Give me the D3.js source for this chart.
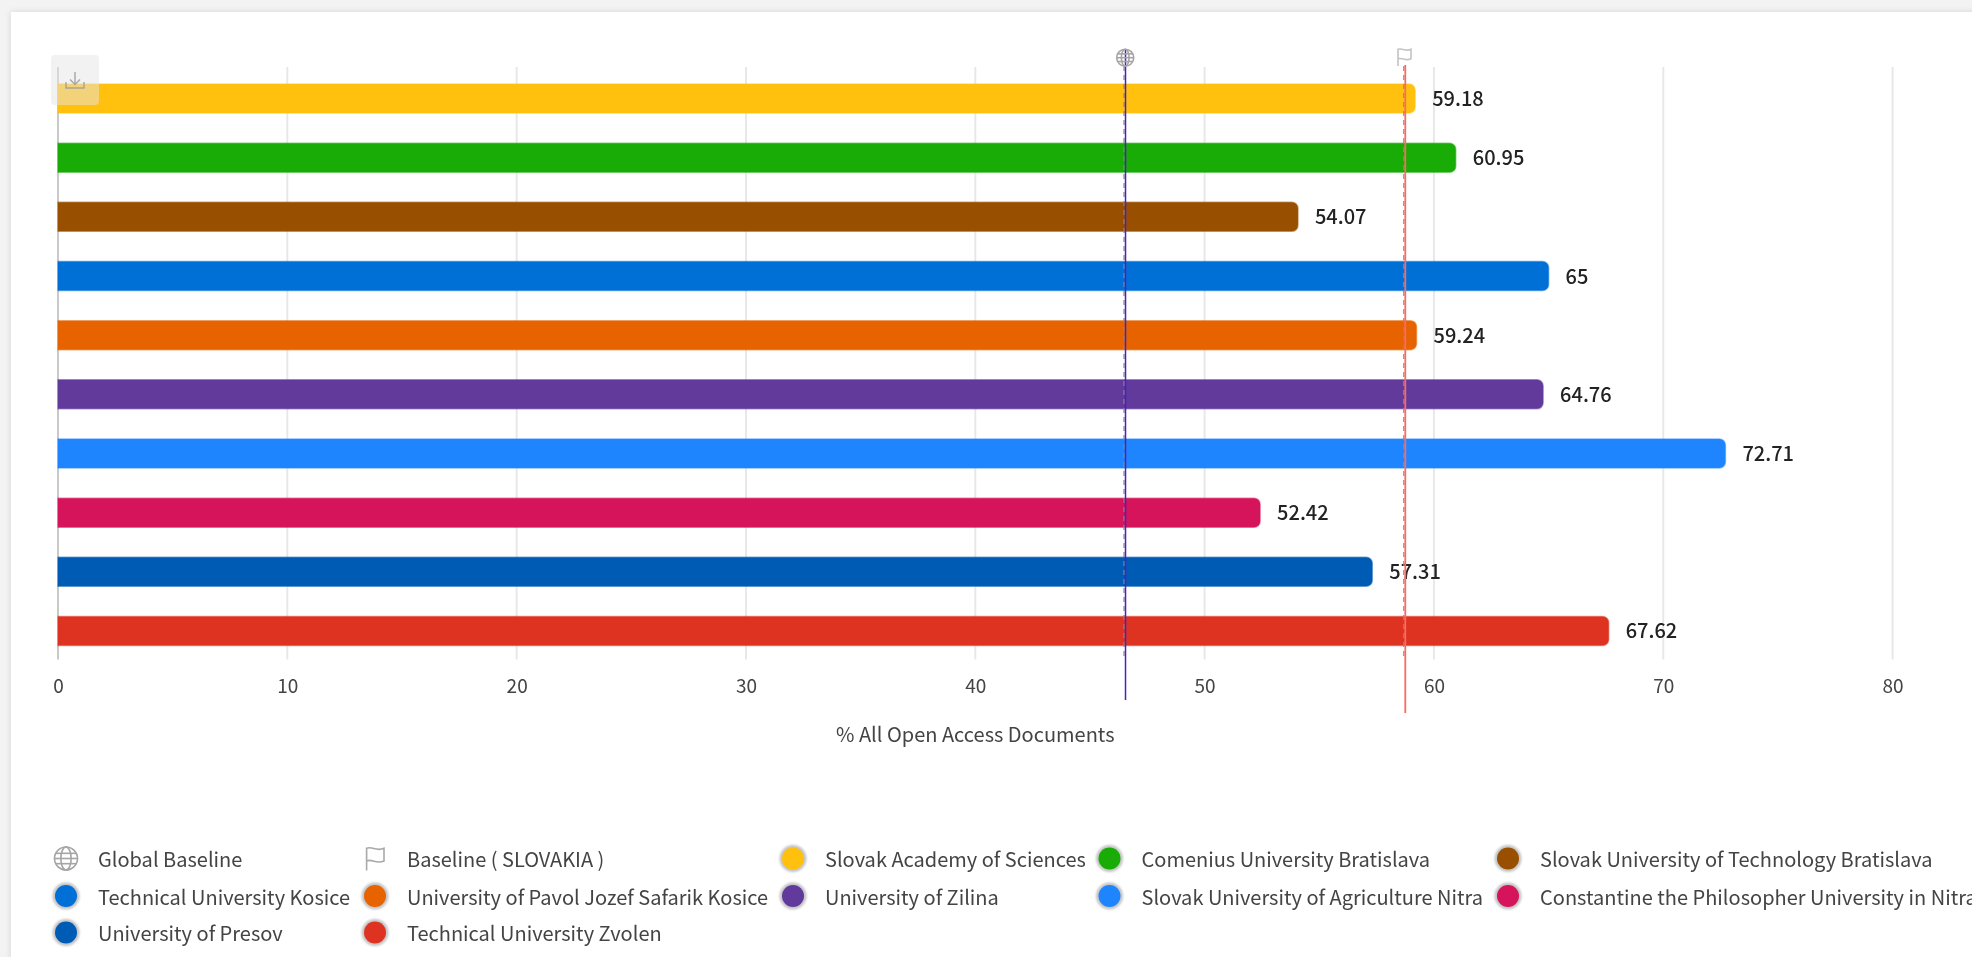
<!DOCTYPE html>
<html><head><meta charset="utf-8">
<script src="https://cdn.jsdelivr.net/npm/d3@7/dist/d3.min.js"></script>
<style>
html,body{margin:0;padding:0;width:1972px;height:957px;overflow:hidden;background:#f3f3f3}
svg{display:block;font-family:"Noto Sans CJK JP","Noto Sans",sans-serif}
#chart{filter:blur(0.45px)}
</style></head><body><div id="chart"></div>
<script>
const universities=["Slovak Academy of Sciences","Comenius University Bratislava","Slovak University of Technology Bratislava","Technical University Kosice","University of Pavol Jozef Safarik Kosice","University of Zilina","Slovak University of Agriculture Nitra","Constantine the Philosopher University in Nitra","University of Presov","Technical University Zvolen"];
const openAccess=[59.18,60.95,54.07,65,59.24,64.76,72.71,52.42,57.31,67.62];
const barColors=["#FFC10E","#19AB06","#985000","#006FD6","#E66300","#613A9B","#1E85FF","#D6145B","#005BB5","#DD3320"];
const xTicks=[0,10,20,30,40,50,60,70,80];
const axisTitle="% All Open Access Documents";
const globalBaseline=46.55;
const countryBaseline=58.75;
const baselineLabels=["Global Baseline","Baseline ( SLOVAKIA )"];

const W=1972,H=957;
const svg=d3.select("#chart").append("svg").attr("width",W).attr("height",H);
const defs=svg.append("defs");
const sh=defs.append("filter").attr("id","cardShadow").attr("x","-5%").attr("y","-5%").attr("width","110%").attr("height","110%");
sh.append("feDropShadow").attr("dx",0).attr("dy",0).attr("stdDeviation",3).attr("flood-color","#000").attr("flood-opacity",0.12);
svg.append("rect").attr("x",11).attr("y",12).attr("width",W+40).attr("height",H+40).attr("fill","#fff").attr("filter","url(#cardShadow)");

const x=d3.scaleLinear().domain([0,80]).range([58,1892.6]);
const y=d3.scaleBand().domain(universities).range([84,645.5]).paddingInner(0.509).paddingOuter(0);
const gridTop=67,gridBottom=659.5;

// grid
svg.append("g").selectAll("line").data(xTicks).join("line")
  .attr("x1",d=>x(d)).attr("x2",d=>x(d)).attr("y1",gridTop).attr("y2",gridBottom)
  .attr("stroke",d=>d===0?"#c9c9c9":"#e8e8e8").attr("stroke-width",2);

// axis
const axis=svg.append("g").attr("transform",`translate(0,${gridBottom})`)
  .call(d3.axisBottom(x).tickValues(xTicks).tickSize(0).tickPadding(20).tickFormat(d3.format("d")));
axis.select(".domain").remove();
axis.selectAll("text").attr("font-size",19).attr("fill","#444").attr("font-family",'"Noto Sans CJK JP"');

svg.append("text").attr("x",x(40)).attr("y",733.5).attr("text-anchor","middle").attr("dominant-baseline","central")
  .attr("font-size",20).attr("fill","#444").text(axisTitle);

// bars: square at the axis, rounded at the value end
const barPath=(d,i)=>{
  const x0=x(0),x1=x(d),t=y(universities[i]),h=y.bandwidth(),r=6;
  const p=d3.path();
  p.moveTo(x0,t);p.lineTo(x1-r,t);p.arcTo(x1,t,x1,t+r,r);p.lineTo(x1,t+h-r);p.arcTo(x1,t+h,x1-r,t+h,r);p.lineTo(x0,t+h);p.closePath();
  return p.toString();
};
svg.append("g").selectAll("path").data(openAccess).join("path")
  .attr("d",barPath).attr("fill",(d,i)=>barColors[i])
  .attr("stroke",(d,i)=>barColors[i]).attr("stroke-width",1.5).attr("stroke-opacity",0.5);

svg.append("g").selectAll("text").data(openAccess).join("text")
  .attr("x",d=>x(d)+17).attr("y",(d,i)=>y(universities[i])+y.bandwidth()/2-1)
  .attr("dominant-baseline","central").attr("font-size",20).attr("font-weight",500).attr("fill","#222")
  .text(d=>d);

// baselines
const baselineMarks=[
  {v:globalBaseline,color:"#4A1FC4",top:50,bottom:700,w:1.5},
  {v:countryBaseline,color:"#FF6A60",top:65,bottom:713,w:1.8}];
svg.append("g").selectAll("line").data(baselineMarks).join("line")
  .attr("x1",d=>x(d.v)-1.5).attr("x2",d=>x(d.v)-1.5).attr("y1",66).attr("y2",gridBottom)
  .attr("stroke","#8a8a8a").attr("stroke-width",1.2).attr("stroke-dasharray","5 4");
svg.append("g").selectAll("line").data(baselineMarks).join("line")
  .attr("x1",d=>x(d.v)).attr("x2",d=>x(d.v)).attr("y1",d=>d.top).attr("y2",d=>d.bottom)
  .attr("stroke",d=>d.color).attr("stroke-width",d=>d.w);

function globe(g,cx,cy,r,c){
  const s=g.append("g").attr("transform",`translate(${cx},${cy})`).attr("fill","none").attr("stroke",c).attr("stroke-width",1.6);
  s.append("circle").attr("r",r);
  s.append("ellipse").attr("rx",r*0.45).attr("ry",r);
  s.append("line").attr("x1",-r).attr("x2",r);
  s.append("line").attr("x1",-r*0.9).attr("x2",r*0.9).attr("y1",-r*0.45).attr("y2",-r*0.45);
  s.append("line").attr("x1",-r*0.9).attr("x2",r*0.9).attr("y1",r*0.45).attr("y2",r*0.45);
}
function flag(g,cx,cy,s,c){
  const p=`M${-s*0.7},${s} L${-s*0.7},${-s*0.85} C${-s*0.2},${-s*1.05} ${s*0.1},${-s*0.55} ${s*0.75},${-s*0.85} L${s*0.75},${s*0.2} C${s*0.1},${s*0.5} ${-s*0.2},${0} ${-s*0.7},${s*0.2}`;
  g.append("path").attr("transform",`translate(${cx},${cy})`).attr("d",p).attr("fill","none").attr("stroke",c).attr("stroke-width",1.6);
}
globe(svg,x(globalBaseline)-0.3,57.7,8.5,"#a5a5a5");
flag(svg,x(countryBaseline)-1,57,9,"#c4c4c4");

// legend
const legendCols=[66,375,793,1109.5,1508];
const legendRows=[858.5,896,932.5];
const legendItems=[{name:baselineLabels[0],kind:"globe"},{name:baselineLabels[1],kind:"flag"}]
  .concat(universities.map((n,i)=>({name:n,kind:"dot",color:barColors[i]})));
const lg=svg.append("g").attr("id","legend");
const blur=defs.append("filter").attr("id","halo").attr("x","-30%").attr("y","-30%").attr("width","160%").attr("height","160%");
blur.append("feGaussianBlur").attr("stdDeviation",1);
legendItems.forEach((it,i)=>{
  const cx=legendCols[i%5],cy=legendRows[Math.floor(i/5)];
  if(it.kind==="globe") globe(lg,cx,cy,11.5,"#a5a5a5");
  else if(it.kind==="flag") flag(lg,cx,cy,12,"#a9a9a9");
  else{
    lg.append("circle").attr("cx",cx).attr("cy",cy).attr("r",13.5).attr("fill","#c4c4c4").attr("filter","url(#halo)");
    lg.append("circle").attr("cx",cx).attr("cy",cy).attr("r",11).attr("fill",it.color);
  }
  lg.append("text").attr("x",cx+32).attr("y",cy).attr("dominant-baseline","central")
    .attr("font-size",20).attr("fill","#444").text(it.name);
});

// download button, overlapping the first bar
const btn=svg.append("g");
btn.append("rect").attr("x",51).attr("y",55).attr("width",48).attr("height",50).attr("rx",4).attr("fill","#e6e6e6").attr("opacity",0.5);
btn.append("path").attr("d","M75,72 V84 M70,79.5 L75,84.5 L80,79.5 M66,82 V88 H84 V82").attr("fill","none").attr("stroke","#999").attr("stroke-width",1.5).attr("opacity",0.8);
</script></body></html>
